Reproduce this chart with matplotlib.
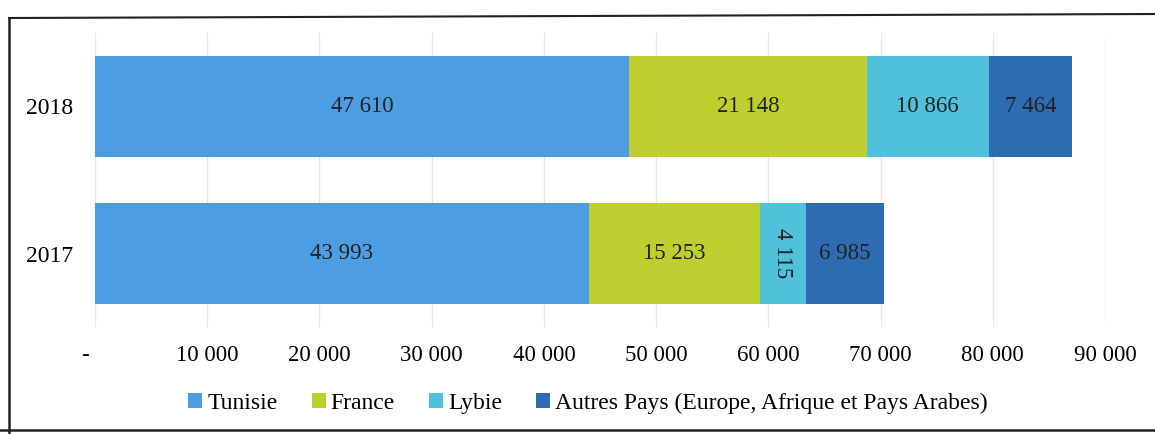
import matplotlib
matplotlib.use("Agg")
import matplotlib.pyplot as plt
from matplotlib.lines import Line2D
from matplotlib.patches import Patch
import matplotlib.transforms as mtransforms
import numpy as np

plt.rcParams['font.family'] = ['Liberation Serif', 'DejaVu Serif']

years = ["2017", "2018"]
series = ["Tunisie", "France", "Lybie", "Autres Pays (Europe, Afrique et Pays Arabes)"]
tunisie = [43993, 47610]
france = [15253, 21148]
lybie = [4115, 10866]
autres = [6985, 7464]
colors = ["#4C9DE2", "#BFCE2F", "#4FC1DB", "#2D6CB3"]
xticks = [0, 10000, 20000, 30000, 40000, 50000, 60000, 70000, 80000, 90000]
xticklabels = ["-", "10 000", "20 000", "30 000", "40 000", "50 000",
               "60 000", "70 000", "80 000", "90 000"]

def fmt(v):
    return f"{v:,}".replace(",", " ")

fig = plt.figure(figsize=(11.55, 4.34), dpi=100)
ax = fig.add_axes([95/1155, 1-327/434, (1105-95)/1155, (327-33)/434])

y = np.arange(len(years))
left = np.zeros(len(years))
for vals, name, c in zip([tunisie, france, lybie, autres], series, colors):
    vals = np.array(vals)
    ax.barh(y, vals, left=left, height=0.69, color=c, label=name, zorder=2)
    for yi, (l, v) in enumerate(zip(left, vals)):
        rot = -90 if v < 5000 else 0
        ax.text(l + v/2, yi, fmt(int(v)), ha="center", va="center",
                fontsize=16.5, rotation=rot, color="#222222", zorder=3)
    left = left + vals

ax.set_xlim(0, 90000)
ax.set_ylim(-0.5, 1.5)
ax.set_yticks(y)
ax.set_yticklabels(years, fontsize=17)
ax.set_xticks(xticks)
ax.set_xticklabels(xticklabels, fontsize=16.5)
ax.tick_params(axis="both", length=0)
ax.tick_params(axis="x", pad=13)
ax.tick_params(axis="y", pad=15.5)
# shift the "-" zero label to the left
lab0 = ax.get_xticklabels()[0]
lab0.set_transform(lab0.get_transform() + mtransforms.ScaledTranslation(-0.1, 0, fig.dpi_scale_trans))
ax.grid(axis="x", color="#E6E6E6", linewidth=1, zorder=0)
for s in ax.spines.values():
    s.set_visible(False)

handles = [Patch(facecolor=c, edgecolor="none") for c in colors]
fig.legend(handles, series, loc="center", bbox_to_anchor=(588/1155, 1-403/434),
           ncol=4, frameon=False, fontsize=17, handlelength=0.6, handleheight=0.6,
           handletextpad=0.2, columnspacing=1.45)

# scanned frame
fig.add_artist(Line2D([9/1155, 9/1155], [0, 1-18/434], color="#222222", lw=1.8, transform=fig.transFigure))
fig.add_artist(Line2D([9/1155, 1], [1-18/434, 1-14/434], color="#222222", lw=1.5, transform=fig.transFigure))
fig.add_artist(Line2D([0, 1], [1-430/434, 1-430/434], color="#222222", lw=1.8, transform=fig.transFigure))

fig.savefig("out.png", dpi=100)
